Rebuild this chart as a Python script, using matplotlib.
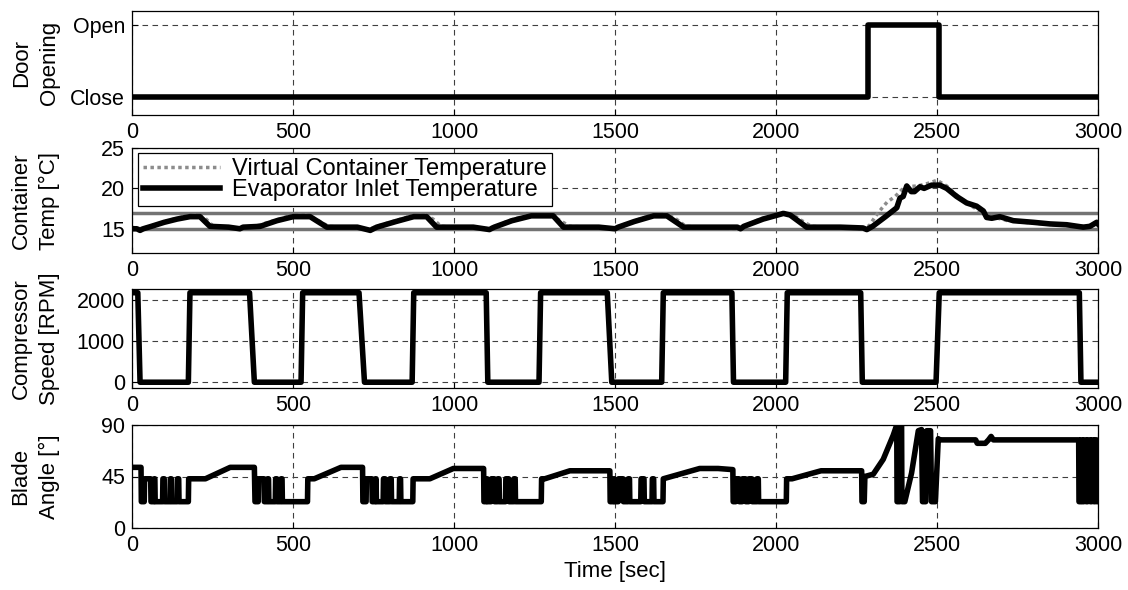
import matplotlib
matplotlib.use("Agg")
import matplotlib.pyplot as plt
import numpy as np

plt.rcParams['font.family'] = ['Liberation Sans', 'DejaVu Sans']
plt.rcParams['font.size'] = 15

# door opening (0 = Close, 1 = Open)
door_t = [0, 2285, 2285, 2505, 2505, 3000]
door_v = [0, 0, 1, 1, 0, 0]

# evaporator inlet temperature
evap_t = [0, 15, 25, 35, 60, 100, 140, 180, 211, 242, 300, 335, 345, 398, 450, 501, 553, 605,
          700, 740, 760, 820, 875, 915, 946, 1000, 1060, 1110, 1125, 1180, 1240, 1308, 1340,
          1450, 1500, 1510, 1560, 1620, 1661, 1713, 1880, 1890, 1900, 1960, 2023, 2044, 2095,
          2200, 2270, 2282, 2300, 2340, 2375, 2385, 2395, 2406, 2420, 2430, 2447, 2460, 2483,
          2509, 2530, 2561, 2592, 2623, 2644, 2654, 2670, 2695, 2737, 2799, 2851, 2903, 2954,
          2975, 2996, 3000]
evap_v = [15.0, 15.0, 14.8, 15.0, 15.3, 15.8, 16.2, 16.5, 16.5, 15.3, 15.2, 15.0, 15.2, 15.3,
          16.0, 16.5, 16.5, 15.2, 15.2, 14.8, 15.2, 15.9, 16.5, 16.5, 15.2, 15.2, 15.2, 14.9,
          15.2, 16.0, 16.6, 16.6, 15.2, 15.2, 15.0, 15.2, 15.9, 16.6, 16.6, 15.2, 15.2, 15.0,
          15.3, 16.2, 16.9, 16.7, 15.2, 15.2, 15.1, 14.9, 15.3, 16.5, 17.6, 18.8, 19.0, 20.3,
          19.6, 19.6, 20.2, 20.0, 20.4, 20.4, 20.0, 19.0, 18.2, 17.8, 17.2, 16.4, 16.3, 16.5,
          16.0, 15.8, 15.6, 15.5, 15.2, 15.3, 15.8, 15.6]

# virtual container temperature
virt_t = [0, 20, 40, 80, 120, 160, 200, 225, 250, 300, 330, 360, 390, 440, 490, 540, 570, 610,
          700, 735, 760, 810, 860, 910, 935, 960, 1100, 1130, 1170, 1230, 1300, 1330, 1360,
          1480, 1500, 1520, 1570, 1615, 1660, 1690, 1720, 1880, 1900, 1950, 2020, 2050, 2080,
          2110, 2270, 2290, 2310, 2330, 2345, 2370, 2400, 2440, 2470, 2500, 2530, 2560, 2600,
          2640, 2670, 2720, 2800, 2900, 2960, 3000]
virt_v = [15.2, 15.0, 15.1, 15.6, 16.1, 16.5, 16.7, 16.4, 15.4, 15.1, 15.0, 15.2, 15.4, 16.0,
          16.6, 16.7, 16.2, 15.3, 15.1, 14.9, 15.3, 15.9, 16.5, 16.7, 16.2, 15.3, 15.0, 15.3,
          16.0, 16.7, 16.7, 16.0, 15.3, 15.1, 15.0, 15.4, 16.1, 16.7, 16.8, 16.2, 15.3, 15.0,
          15.3, 16.2, 17.0, 16.8, 16.0, 15.3, 15.0, 15.4, 16.6, 17.6, 18.3, 19.0, 20.2, 20.3,
          20.6, 21.0, 20.3, 19.2, 18.0, 17.0, 16.5, 16.0, 15.7, 15.4, 15.3, 15.6]

# compressor speed [RPM]
comp_t = [0, 18, 25, 175, 180, 365, 380, 525, 530, 705, 722, 870, 875, 1100, 1105, 1264, 1269,
          1476, 1490, 1645, 1650, 1863, 1868, 2030, 2035, 2263, 2268, 2497, 2507, 2942, 2947, 3000]
comp_v = [2170, 2170, 0, 0, 2170, 2170, 0, 0, 2170, 2170, 0, 0, 2170, 2170, 0, 0, 2170,
          2170, 0, 0, 2170, 2170, 0, 0, 2170, 2170, 0, 0, 2170, 2170, 0, 0]

# blade angle [deg]
blade_t = [0, 28, 29, 38, 39, 58, 59, 68, 69, 71, 72, 95, 96, 100, 101, 118, 119, 122, 123, 140,
           141, 145, 146, 175, 176, 228, 305, 380,
           382, 392, 393, 410, 411, 420, 421, 424, 425, 445, 446, 450, 451, 462, 463, 466, 467,
           545, 546, 566, 649, 716,
           717, 727, 728, 745, 746, 755, 756, 758, 759, 780, 781, 786, 787, 800, 801, 805, 806,
           830, 831, 834, 835, 872, 873, 925, 998, 1092,
           1093, 1100, 1101, 1103, 1104, 1115, 1116, 1125, 1126, 1135, 1136, 1140, 1141, 1160,
           1161, 1170, 1171, 1185, 1186, 1190, 1191, 1271, 1272, 1282, 1360, 1484,
           1485, 1495, 1496, 1498, 1499, 1510, 1511, 1525, 1526, 1540, 1541, 1545, 1546, 1580,
           1581, 1590, 1591, 1615, 1616, 1620, 1621, 1649, 1650, 1763, 1820, 1866,
           1867, 1875, 1876, 1885, 1886, 1895, 1896, 1905, 1906, 1915, 1916, 1925, 1926, 1940,
           1941, 1945, 1946, 2032, 2033, 2050, 2140, 2266,
           2267, 2274, 2276, 2302, 2333, 2364, 2375, 2376, 2384, 2385, 2390, 2391, 2400, 2421,
           2442, 2452, 2455, 2465, 2468, 2480, 2483, 2495, 2504, 2509, 2620, 2625, 2650, 2660,
           2668, 2675, 2940,
           2941, 2946, 2947, 2950, 2951, 2956, 2957, 2962, 2963, 2968, 2969, 2975, 2976, 2980,
           2981, 2986, 2987, 2991, 2992, 2996, 2997, 3000]
blade_v = [53, 53, 23, 23, 43, 43, 23, 23, 43, 43, 23, 23, 43, 43, 23, 23, 43, 43, 23, 23,
           43, 43, 23, 23, 43, 43, 53, 53,
           23, 23, 43, 43, 23, 23, 43, 43, 23, 23, 43, 43, 23, 23, 43, 43, 23,
           23, 43, 43, 53, 53,
           23, 23, 43, 43, 23, 23, 43, 43, 23, 23, 43, 43, 23, 23, 43, 43, 23,
           23, 43, 43, 23, 23, 43, 43, 52, 52,
           23, 23, 43, 43, 23, 23, 43, 43, 23, 23, 43, 43, 23, 23,
           43, 43, 23, 23, 43, 43, 23, 23, 43, 43, 50, 50,
           23, 23, 43, 43, 23, 23, 43, 43, 23, 23, 43, 43, 23, 23,
           43, 43, 23, 23, 43, 43, 23, 23, 43, 52, 52, 51,
           23, 23, 43, 43, 23, 23, 43, 43, 23, 23, 43, 43, 23, 23,
           43, 43, 23, 23, 43, 43, 50, 50,
           23, 23, 45, 47, 60, 81, 90, 23, 23, 90, 90, 23, 23, 48,
           85, 86, 23, 23, 85, 85, 23, 23, 78, 77, 77, 74, 74, 77,
           80, 77, 77,
           23, 23, 77, 77, 23, 23, 77, 77, 23, 23, 77, 77, 23, 23,
           77, 77, 23, 23, 77, 77, 23, 23]

W, H = 1128, 590
fig = plt.figure(figsize=(W/100., H/100.), dpi=100)

def make_ax(top, bottom):
    return fig.add_axes([132./W, 1 - bottom/float(H), 966./W, (bottom - top)/float(H)])

ax1 = make_ax(11, 115)
ax2 = make_ax(148, 253)
ax3 = make_ax(289, 388)
ax4 = make_ax(425, 528)

gridstyle = dict(color='0.25', linestyle=(0, (5, 4)), linewidth=0.8)
labx = (60 - 132) / 966.

for ax in [ax1, ax2, ax3, ax4]:
    ax.set_xlim(0, 3000)
    ax.set_xticks([0, 500, 1000, 1500, 2000, 2500, 3000])
    ax.grid(True, **gridstyle)
    ax.set_axisbelow(True)
    ax.tick_params(direction='in', length=4, width=0.8, pad=5, labelsize=15.5)
    for s in ax.spines.values():
        s.set_linewidth(0.9)

ax1.plot(door_t, door_v, color='k', lw=4)
ax1.set_ylim(-0.25, 1.2)
ax1.set_yticks([0, 1])
ax1.set_yticklabels(['Close', 'Open'])
ax1.set_ylabel('Door\nOpening', fontsize=16, linespacing=1.45)

ax2.axhline(15, color='0.45', lw=2.5)
ax2.axhline(17, color='0.45', lw=2.5)
ax2.plot(virt_t, virt_v, color='0.55', lw=2.5, linestyle=(0, (1, 1)), label='Virtual Container Temperature')
ax2.plot(evap_t, evap_v, color='k', lw=4, label='Evaporator Inlet Temperature')
ax2.set_ylim(12, 25)
ax2.set_yticks([15, 20, 25])
ax2.set_ylabel('Container\nTemp [°C]', fontsize=16, linespacing=1.45)
leg = ax2.legend(loc='upper left', bbox_to_anchor=(0.006, 0.95), fancybox=False, edgecolor='k',
                 framealpha=1, handlelength=3.3, labelspacing=-0.05, borderpad=0.2,
                 borderaxespad=0.0, handletextpad=0.5, fontsize=17)
leg.get_frame().set_linewidth(0.9)

ax3.plot(comp_t, comp_v, color='k', lw=4)
ax3.set_ylim(-140, 2260)
ax3.set_yticks([0, 1000, 2000])
ax3.set_ylabel('Compressor\nSpeed [RPM]', fontsize=16, linespacing=1.45)

ax4.plot(blade_t, blade_v, color='k', lw=4)
ax4.set_ylim(0, 90)
ax4.set_yticks([0, 45, 90])
ax4.set_ylabel('Blade\nAngle [°]', fontsize=16, linespacing=1.45)
ax4.set_xlabel('Time [sec]', labelpad=4, fontsize=16)

for ax in [ax1, ax2, ax3, ax4]:
    ax.yaxis.set_label_coords(labx, 0.5)

fig.savefig('out.png', dpi=100)
